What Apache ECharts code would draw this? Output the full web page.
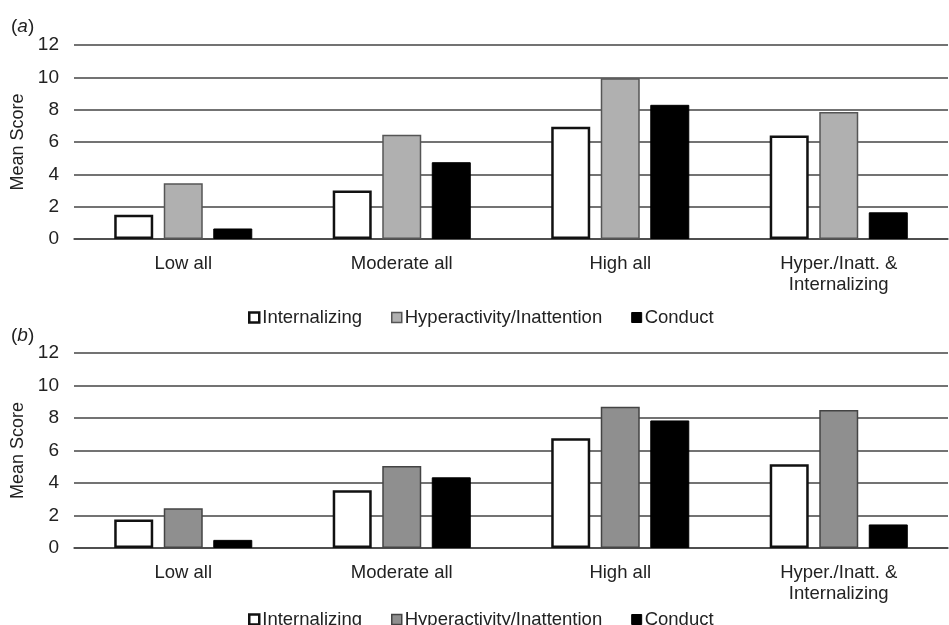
<!DOCTYPE html>
<html style="height: 100%">
<head>
	<meta charset="utf-8">
	<title>Mean Score by profile</title>
</head>
<body style="height: 100%; margin: 0; background: #fff">
<div id="container" style="width: 949px; height: 625px"></div>

<script src="https://cdn.jsdelivr.net/npm/echarts@6/dist/echarts.min.js"></script>
<script type="text/javascript">
	var categories = ['Low all', 'Moderate all', 'High all', 'Hyper./Inatt. &\nInternalizing'];
	var seriesNames = ['Internalizing', 'Hyperactivity/Inattention', 'Conduct'];
	var yTicks = [0, 2, 4, 6, 8, 10, 12];

	// panel (a)
	var internalA = [1.5, 3.0, 6.95, 6.4];
	var hyperA = [3.45, 6.45, 9.95, 7.85];
	var conductA = [0.65, 4.75, 8.3, 1.65];

	// panel (b)
	var internalB = [1.75, 3.55, 6.75, 5.15];
	var hyperB = [2.45, 5.05, 8.7, 8.5];
	var conductB = [0.5, 4.35, 7.85, 1.45];

	var font = '"Liberation Sans", Arial, sans-serif';
	var textColor = '#222';
	var lineColor = '#444';

	var styles = [
		{ color: '#ffffff', borderColor: '#111', borderWidth: 2.5 },
		{ color: '#b0b0b0', borderColor: '#555', borderWidth: 1.5 },
		{ color: '#000000', borderColor: '#000', borderWidth: 1 }
	];
	var stylesB = [
		styles[0],
		{ color: '#8f8f8f', borderColor: '#444', borderWidth: 1.5 },
		styles[2]
	];

	var dom = document.getElementById('container');
	var myChart = echarts.init(dom, null, { renderer: 'canvas' });

	function xAxisFor(idx) {
		return {
			type: 'category',
			gridIndex: idx,
			data: categories,
			axisLine: { lineStyle: { color: lineColor, width: 1.5 } },
			axisTick: { show: false },
			axisLabel: {
				color: textColor, fontSize: 18.5, fontFamily: font,
				margin: 14, lineHeight: 21, interval: 0
			}
		};
	}

	function yAxisFor(idx) {
		return {
			type: 'value',
			gridIndex: idx,
			min: yTicks[0],
			max: yTicks[yTicks.length - 1],
			interval: 2,
			name: 'Mean Score',
			nameLocation: 'middle',
			nameRotate: 90,
			nameGap: 43,
			nameTextStyle: { color: textColor, fontSize: 18, fontFamily: font },
			axisLine: { show: false },
			axisTick: { show: false },
			axisLabel: { color: textColor, fontSize: 19, fontFamily: font, margin: 15 },
			splitLine: { lineStyle: { color: lineColor, width: 1.5 } }
		};
	}

	function legendFor(top, st) {
		return {
			top: top,
			left: 243,
			itemWidth: 10,
			itemHeight: 10,
			itemGap: 29,
			icon: 'rect',
			textStyle: { color: textColor, fontSize: 18.5, fontFamily: font, padding: [0, 0, 0, -2] },
			data: seriesNames.map(function (n, i) {
				return { name: n, itemStyle: st[i] };
			}),
			selectedMode: false
		};
	}

	function bars(name, values, st, idx) {
		return {
			name: name,
			type: 'bar',
			xAxisIndex: idx,
			yAxisIndex: idx,
			data: values,
			barWidth: 39,
			barGap: '27%',
			itemStyle: st,
			emphasis: { disabled: true }
		};
	}

	function panelTitle(letter, top) {
		return {
			text: '({i|' + letter + '})',
			left: 11, top: top, padding: 0,
			textStyle: { color: textColor, fontSize: 19, fontWeight: 'normal', fontFamily: font,
				rich: { i: { fontStyle: 'italic', fontSize: 19, color: textColor, fontFamily: font } } }
		};
	}

	var option = {
		animation: false,
		title: [panelTitle('a', 17), panelTitle('b', 326)],
		legend: [legendFor(303, styles), legendFor(605, stylesB)],
		grid: [
			{ left: 74, right: 1, top: 45, height: 194 },
			{ left: 74, right: 1, top: 353, height: 195 }
		],
		xAxis: [xAxisFor(0), xAxisFor(1)],
		yAxis: [yAxisFor(0), yAxisFor(1)],
		series: [
			bars(seriesNames[0], internalA, styles[0], 0),
			bars(seriesNames[1], hyperA, styles[1], 0),
			bars(seriesNames[2], conductA, styles[2], 0),
			bars(seriesNames[0], internalB, stylesB[0], 1),
			bars(seriesNames[1], hyperB, stylesB[1], 1),
			bars(seriesNames[2], conductB, stylesB[2], 1)
		]
	};

	myChart.setOption(option);
	window.addEventListener('resize', myChart.resize);
</script>
</body>
</html>
